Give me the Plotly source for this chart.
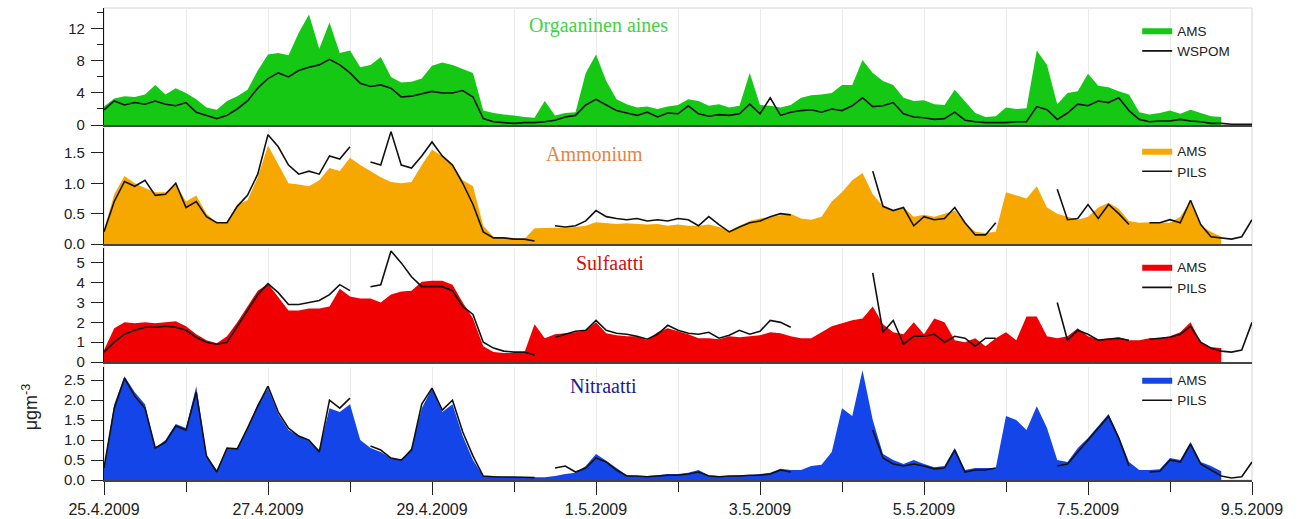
import pandas as pd
import plotly.graph_objects as go
from plotly.subplots import make_subplots

# 3-hourly time axis, 25.4.2009 00:00 -> 9.5.2009 00:00
times = pd.date_range("2009-04-25 00:00", periods=113, freq="3h")

# Organic matter (AMS) and water-soluble POM
org_ams = [2.3, 3.3, 3.6, 3.5, 3.8, 5.0, 3.8, 4.6, 4.0, 3.2,
           2.2, 1.9, 3.0, 3.6, 4.4, 6.8, 8.8, 9.0, 8.7, 11.5,
           13.8, 9.5, 12.8, 9.0, 9.3, 7.2, 7.5, 8.5, 6.0, 5.3,
           5.4, 5.8, 7.4, 7.8, 7.5, 7.0, 6.5, 1.8, 1.5, 1.3,
           1.2, 1.0, 0.9, 3.0, 1.2, 1.5, 1.6, 6.5, 8.8, 5.5,
           3.2, 2.6, 2.2, 2.3, 2.0, 2.3, 2.5, 3.2, 3.0, 2.4,
           2.6, 2.2, 2.4, 6.5, 2.5, 2.4, 2.2, 2.5, 3.4, 3.7,
           3.8, 4.0, 5.0, 5.0, 8.1, 6.5, 5.5, 5.0, 3.4, 3.0,
           3.1, 2.6, 2.5, 4.4, 3.0, 1.5, 1.0, 1.1, 2.2, 2.0,
           2.1, 9.3, 7.5, 2.6, 4.0, 4.2, 6.4, 4.9, 4.7, 4.2,
           3.8, 1.6, 1.3, 1.5, 1.8, 1.4, 1.9, 1.5, 1.1, 1.0,
           None, None, None]
org_wspom = [1.9, 3.0, 2.5, 2.8, 2.6, 3.0, 2.6, 2.4, 2.8, 1.6,
             1.2, 0.8, 1.2, 2.0, 3.0, 4.6, 5.8, 6.5, 6.0, 6.8,
             7.2, 7.5, 8.2, 7.5, 6.5, 5.2, 4.8, 5.0, 4.6, 3.5,
             3.6, 3.9, 4.2, 4.0, 4.0, 4.3, 3.5, 0.8, 0.4, 0.3,
             0.2, 0.3, 0.3, 0.4, 0.6, 1.0, 1.2, 2.5, 3.2, 2.5,
             1.8, 1.5, 1.2, 1.6, 1.0, 1.5, 1.4, 2.4, 1.4, 1.1,
             1.3, 1.2, 1.4, 2.6, 1.4, 3.4, 1.2, 1.6, 1.8, 1.9,
             1.6, 2.0, 1.8, 2.4, 3.4, 2.3, 2.4, 2.8, 1.4, 1.0,
             0.9, 0.7, 0.8, 1.6, 0.6, 0.4, 0.3, 0.3, 0.3, 0.4,
             0.4, 2.3, 1.9, 0.7, 1.5, 2.6, 2.4, 3.0, 2.8, 3.4,
             1.8, 0.7, 0.4, 0.5, 0.5, 0.7, 0.5, 0.4, 0.2, 0.2,
             0.1, 0.1, 0.1]

# Ammonium
nh4_ams = [0.23, 0.82, 1.12, 1.0, 0.92, 0.85, 0.85, 0.98, 0.7, 0.8,
           0.5, 0.35, 0.36, 0.65, 0.72, 1.1, 1.62, 1.3, 1.0, 0.98,
           0.95, 1.05, 1.25, 1.2, 1.42, 1.3, 1.2, 1.1, 1.02, 1.0,
           1.02, 1.3, 1.55, 1.45, 1.3, 1.05, 0.95, 0.3, 0.12, 0.1,
           0.1, 0.08, 0.26, 0.26, 0.27, 0.27, 0.28, 0.3, 0.36, 0.34,
           0.33, 0.34, 0.33, 0.32, 0.33, 0.3, 0.32, 0.3, 0.3, 0.32,
           0.28, 0.22, 0.3, 0.38, 0.42, 0.45, 0.48, 0.5, 0.42, 0.4,
           0.45, 0.7, 0.85, 1.05, 1.17, 0.82, 0.62, 0.55, 0.6, 0.45,
           0.48, 0.45, 0.5, 0.55, 0.35, 0.2, 0.18, 0.2, 0.85, 0.8,
           0.75, 0.95, 0.6, 0.5, 0.45, 0.4, 0.45, 0.6, 0.68, 0.58,
           0.38, 0.35, 0.36, 0.36, 0.35, 0.45, 0.7, 0.3, 0.2, 0.12,
           None, None, None]
nh4_pils = [0.2, 0.7, 1.03, 0.95, 1.05, 0.8, 0.82, 1.0, 0.6, 0.7,
            0.45, 0.35, 0.35, 0.62, 0.8, 1.15, 1.8, 1.6, 1.3, 1.15,
            1.2, 1.15, 1.45, 1.4, 1.6, None, 1.35, 1.3, 1.85, 1.3,
            1.25, 1.45, 1.68, 1.45, 1.3, 1.0, 0.65, 0.2, 0.1, 0.1,
            0.08, 0.08, 0.05, None, 0.3, 0.28, 0.3, 0.38, 0.55, 0.45,
            0.42, 0.4, 0.42, 0.38, 0.4, 0.38, 0.42, 0.4, 0.3, 0.45,
            0.32, 0.2, 0.28, 0.35, 0.38, 0.45, 0.5, 0.48, None, None,
            None, None, None, None, None, 1.2, 0.62, 0.55, 0.6, 0.3,
            0.45, 0.4, 0.42, 0.6, 0.35, 0.15, 0.15, 0.35, None, None,
            None, None, None, 0.9, 0.4, 0.42, 0.65, 0.42, 0.65, 0.5,
            0.32, None, 0.35, 0.35, 0.4, 0.35, 0.72, 0.32, 0.12, 0.1,
            0.08, 0.12, 0.4]

# Sulphate
so4_ams = [0.6, 1.7, 2.0, 1.95, 2.0, 1.95, 2.0, 2.05, 1.8, 1.4,
           1.1, 0.95, 1.3, 2.0, 2.8, 3.6, 3.95, 3.3, 2.6, 2.6,
           2.7, 2.7, 2.8, 3.7, 3.3, 3.2, 3.2, 3.0, 3.4, 3.55,
           3.6, 4.05, 4.1, 4.1, 3.9, 3.0, 2.2, 0.8, 0.5, 0.45,
           0.45, 0.45, 1.9, 1.2, 1.4, 1.45, 1.5, 1.6, 2.0, 1.45,
           1.35, 1.3, 1.3, 1.1, 1.5, 1.7, 1.55, 1.4, 1.2, 1.2,
           1.15, 1.3, 1.25, 1.3, 1.35, 1.5, 1.45, 1.3, 1.2, 1.2,
           1.5, 1.8, 1.95, 2.1, 2.2, 2.8, 1.9, 1.5, 1.4, 2.0,
           1.4, 2.2, 2.0, 1.1, 1.0, 1.2, 0.8, 1.2, 1.5, 1.1,
           2.3, 2.3, 1.3, 1.2, 1.3, 1.7, 1.3, 1.15, 1.2, 1.25,
           1.1, 1.1, 1.2, 1.2, 1.3, 1.5, 2.0, 1.0, 0.75, 0.7,
           None, None, None]
so4_pils = [0.5, 1.0, 1.4, 1.6, 1.75, 1.75, 1.8, 1.75, 1.6, 1.25,
            1.0, 0.9, 1.0, 1.8, 2.6, 3.4, 3.95, 3.5, 2.9, 2.9,
            3.0, 3.1, 3.4, 3.9, 3.6, None, 3.8, 3.9, 5.6, 5.0,
            4.3, 3.8, 3.8, 3.8, 3.6, 2.8, 2.4, 1.0, 0.7, 0.55,
            0.5, 0.5, 0.35, None, 1.25, 1.4, 1.55, 1.6, 2.1, 1.6,
            1.45, 1.4, 1.3, 1.15, 1.4, 1.85, 1.6, 1.45, 1.4, 1.5,
            1.2, 1.35, 1.6, 1.4, 1.55, 2.1, 2.0, 1.75, None, None,
            None, None, None, None, None, 4.5, 1.5, 2.1, 0.9, 1.3,
            1.3, 1.4, 1.0, 1.3, 1.2, 0.8, 1.2, 1.2, None, None,
            None, None, None, 3.0, 1.1, 1.6, 1.4, 1.1, 1.15, 1.2,
            1.1, None, 1.15, 1.2, 1.25, 1.4, 1.8, 1.0, 0.7, 0.55,
            0.5, 0.6, 2.0]

# Nitrate
no3_ams = [0.33, 1.9, 2.6, 2.2, 1.9, 0.8, 1.0, 1.4, 1.3, 2.35,
           0.6, 0.25, 0.8, 0.8, 1.3, 1.9, 2.3, 1.65, 1.25, 1.1,
           1.0, 0.75, 1.8, 1.7, 1.9, 1.0, 0.8, 0.7, 0.55, 0.5,
           0.8, 1.8, 2.3, 1.7, 1.9, 1.1, 0.5, 0.1, 0.1, 0.08,
           0.08, 0.07, 0.07, 0.07, 0.1, 0.15, 0.18, 0.35, 0.65, 0.48,
           0.3, 0.12, 0.1, 0.1, 0.12, 0.15, 0.15, 0.18, 0.25, 0.12,
           0.1, 0.1, 0.12, 0.12, 0.15, 0.18, 0.28, 0.25, 0.25, 0.35,
           0.38, 0.7, 1.8, 1.6, 2.75, 1.5, 0.65, 0.5, 0.4, 0.5,
           0.4, 0.32, 0.35, 0.8, 0.25, 0.3, 0.3, 0.3, 1.6, 1.5,
           1.25, 1.85, 1.3, 0.5, 0.45, 0.8, 1.05, 1.35, 1.65, 1.1,
           0.45, 0.25, 0.25, 0.27, 0.55, 0.5, 0.95, 0.45, 0.35, 0.22,
           None, None, None]
no3_pils = [0.3, 1.8, 2.55, 2.1, 1.8, 0.8, 0.95, 1.35, 1.25, 2.2,
            0.6, 0.2, 0.8, 0.78, 1.3, 1.85, 2.35, 1.7, 1.3, 1.1,
            1.0, 0.7, 2.0, 1.8, 2.05, None, 0.85, 0.75, 0.55, 0.5,
            0.75, 1.9, 2.3, 1.75, 2.0, 1.2, 0.6, 0.1, 0.08, 0.08,
            0.07, 0.07, 0.06, None, 0.3, 0.35, 0.2, 0.3, 0.55, 0.45,
            0.25, 0.1, 0.1, 0.08, 0.1, 0.12, 0.12, 0.15, 0.2, 0.1,
            0.08, 0.1, 0.1, 0.12, 0.12, 0.15, 0.25, 0.2, None, None,
            None, None, None, None, None, 1.25, 0.55, 0.4, 0.35, 0.4,
            0.35, 0.28, 0.3, 0.75, 0.2, 0.25, 0.25, 0.3, None, None,
            None, None, None, 0.35, 0.4, 0.7, 1.0, 1.3, 1.6, 1.05,
            0.35, None, 0.2, 0.22, 0.5, 0.45, 0.9, 0.4, 0.25, 0.1,
            0.05, 0.08, 0.45]

panel_titles = ["Orgaaninen aines", "Ammonium", "Sulfaatti", "Nitraatti"]
title_colors = ["#3fd43f", "#e0854a", "#d01010", "#1c1c8f"]
fill_colors = ["#14c814", "#f7a800", "#f00000", "#1445e8"]
line_names = ["WSPOM", "PILS", "PILS", "PILS"]
ams_series = [org_ams, nh4_ams, so4_ams, no3_ams]
ref_series = [org_wspom, nh4_pils, so4_pils, no3_pils]
y_ranges = [[0, 14.6], [0, 1.91], [0, 5.75], [0, 2.83]]
y_ticks = [[0, 4, 8, 12], [0, 0.5, 1.0, 1.5], [0, 1, 2, 3, 4, 5],
           [0, 0.5, 1.0, 1.5, 2.0, 2.5]]
y_ticktext = [["0", "4", "8", "12"], ["0.0", "0.5", "1.0", "1.5"],
              ["0", "1", "2", "3", "4", "5"],
              ["0.0", "0.5", "1.0", "1.5", "2.0", "2.5"]]

# labelled dates every second day, plain ticks on the days between
label_days = pd.date_range("2009-04-25", "2009-05-09", freq="2D")
label_text = [f"{d.day}.{d.month}.{d.year}" for d in label_days]
between_days = pd.date_range("2009-04-26", "2009-05-08", freq="2D")

FONT = "Arial, Liberation Sans, sans-serif"
SERIF = "Times New Roman, Liberation Serif, serif"

fig = make_subplots(rows=4, cols=1, shared_xaxes=True)

legend_keys = ["legend", "legend2", "legend3", "legend4"]
for k in range(4):
    fig.add_trace(go.Scatter(
        x=times, y=ams_series[k], mode="lines", name="AMS",
        line=dict(width=0, color=fill_colors[k]), fill="tozeroy",
        fillcolor=fill_colors[k], legend=legend_keys[k]), row=k + 1, col=1)
    fig.add_trace(go.Scatter(
        x=times, y=ref_series[k], mode="lines", name=line_names[k],
        line=dict(width=1.6, color="#111111"), connectgaps=False,
        legend=legend_keys[k]), row=k + 1, col=1)

# panel placement (fractions of the plotting area)
domains = [[0.7521, 1.0], [0.5, 0.7458], [0.25, 0.4915], [0.0, 0.2394]]
for k in range(4):
    yname = "yaxis" if k == 0 else f"yaxis{k + 1}"
    fig.layout[yname].update(
        domain=domains[k], range=y_ranges[k], tickvals=y_ticks[k],
        ticktext=y_ticktext[k], ticks="outside", ticklen=12,
        tickcolor="#222", showline=True, linecolor="#111", linewidth=1.2,
        showgrid=False, zeroline=False, ticklabelstandoff=3,
        automargin=False,
        tickfont=dict(family=FONT, size=15, color="#222"))
    xname = "xaxis" if k == 0 else f"xaxis{k + 1}"
    bottom = (k == 3)
    fig.layout[xname].update(
        range=["2009-04-25", "2009-05-09"], tickvals=label_days,
        ticktext=label_text, showgrid=True, gridcolor="#ebebeb",
        gridwidth=1, showline=True, linecolor="#444", linewidth=1.5,
        zeroline=False, ticks="outside" if bottom else "",
        ticklen=13, tickcolor="#222", showticklabels=bottom,
        ticklabelstandoff=1, automargin=False,
        minor=dict(tickvals=between_days, showgrid=True,
                   gridcolor="#ebebeb", ticks="outside" if bottom else "",
                   ticklen=10, tickcolor="#222"),
        tickfont=dict(family=FONT, size=16, color="#222"))
fig.layout.yaxis.minor = dict(tickvals=[2, 6, 10, 14], ticks="outside",
                              ticklen=6, tickcolor="#222")

# panel titles
title_pos = [(0.431, 0.962), (0.4277, 0.6907), (0.4408, 0.4597), (0.4347, 0.199)]
for k in range(4):
    fig.add_annotation(x=title_pos[k][0], y=title_pos[k][1], xref="paper",
                       yref="paper", xanchor="center", yanchor="middle",
                       text=panel_titles[k], showarrow=False,
                       font=dict(family=SERIF, size=20, color=title_colors[k]))

# common unit label
fig.add_annotation(x=-0.064, y=0.155, xref="paper", yref="paper",
                   xanchor="center", yanchor="middle",
                   text="μgm<sup>-3</sup>", textangle=-90, showarrow=False,
                   font=dict(family=FONT, size=18, color="#222"))

# light frame on top and right
fig.add_shape(type="rect", xref="paper", yref="paper", x0=0, x1=1, y0=0,
              y1=1, line=dict(color="#d4d4d4", width=1), layer="below")

legend_y = [0.985, 0.73, 0.484, 0.245]
legend_common = dict(x=0.9, xanchor="left", yanchor="top",
                     bgcolor="rgba(0,0,0,0)", itemwidth=30,
                     font=dict(family=FONT, size=13.5, color="#222"))
fig.update_layout(
    width=1301, height=519,
    margin=dict(l=104, r=49, t=8, b=39, autoexpand=False),
    paper_bgcolor="white", plot_bgcolor="white",
    legend=dict(y=legend_y[0], **legend_common),
    legend2=dict(y=legend_y[1], **legend_common),
    legend3=dict(y=legend_y[2], **legend_common),
    legend4=dict(y=legend_y[3], **legend_common),
)

fig.write_html("out.html")
